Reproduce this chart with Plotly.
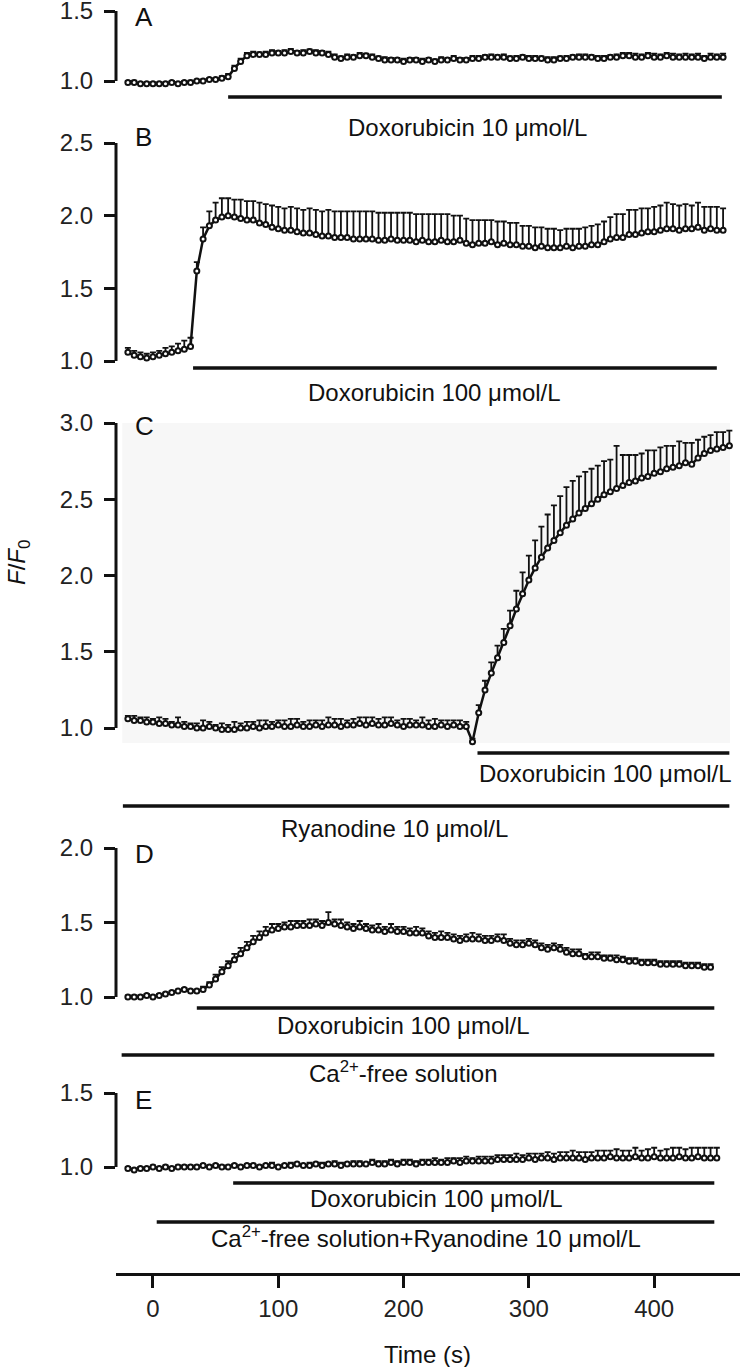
import plotly.graph_objects as go

# ---------------- data ----------------
TIME = list(range(-20, 465, 5))  # sampling times (s)

A_MEAN = [0.99, 0.99, 0.98, 0.98, 0.98, 0.98, 0.98, 0.99, 0.98, 0.99,
          0.99, 1.00, 1.00, 1.01, 1.01, 1.02, 1.03, 1.09, 1.14, 1.18,
          1.19, 1.19, 1.19, 1.20, 1.20, 1.20, 1.21, 1.20, 1.20, 1.21,
          1.20, 1.20, 1.19, 1.17, 1.16, 1.17, 1.17, 1.18, 1.18, 1.17,
          1.16, 1.15, 1.15, 1.15, 1.14, 1.15, 1.15, 1.14, 1.15, 1.14,
          1.15, 1.15, 1.16, 1.15, 1.15, 1.16, 1.16, 1.17, 1.17, 1.17,
          1.17, 1.16, 1.16, 1.17, 1.16, 1.16, 1.16, 1.15, 1.15, 1.16,
          1.16, 1.17, 1.17, 1.17, 1.17, 1.16, 1.16, 1.17, 1.17, 1.18,
          1.18, 1.17, 1.17, 1.18, 1.17, 1.17, 1.18, 1.17, 1.17, 1.17,
          1.17, 1.17, 1.16, 1.17, 1.17, 1.17]
A_SEM = [0.010, 0.012, 0.010, 0.012, 0.010, 0.010, 0.012, 0.010, 0.012, 0.010,
         0.012, 0.010, 0.012, 0.010, 0.012, 0.015, 0.020, 0.020, 0.020, 0.020,
         0.020, 0.015, 0.020, 0.020, 0.015, 0.020, 0.020, 0.015, 0.020, 0.015,
         0.020, 0.015, 0.020, 0.020, 0.015, 0.020, 0.015, 0.020, 0.015, 0.020,
         0.015, 0.020, 0.015, 0.015, 0.020, 0.015, 0.015, 0.020, 0.015, 0.015,
         0.020, 0.015, 0.020, 0.015, 0.015, 0.020, 0.020, 0.015, 0.020, 0.015,
         0.020, 0.015, 0.020, 0.015, 0.020, 0.020, 0.015, 0.020, 0.020, 0.015,
         0.020, 0.015, 0.020, 0.020, 0.015, 0.020, 0.020, 0.015, 0.020, 0.020,
         0.020, 0.025, 0.020, 0.020, 0.025, 0.020, 0.020, 0.025, 0.020, 0.025,
         0.020, 0.025, 0.020, 0.025, 0.020, 0.025]

B_MEAN = [1.06, 1.04, 1.03, 1.02, 1.03, 1.04, 1.05, 1.06, 1.07, 1.08,
          1.10, 1.62, 1.84, 1.93, 1.97, 1.99, 2.00, 1.99, 1.98, 1.97,
          1.97, 1.95, 1.94, 1.92, 1.91, 1.90, 1.90, 1.89, 1.88, 1.88,
          1.87, 1.86, 1.86, 1.85, 1.85, 1.85, 1.84, 1.84, 1.84, 1.84,
          1.83, 1.83, 1.84, 1.83, 1.83, 1.83, 1.82, 1.83, 1.82, 1.82,
          1.83, 1.82, 1.82, 1.83, 1.81, 1.80, 1.81, 1.81, 1.82, 1.80,
          1.81, 1.80, 1.80, 1.79, 1.79, 1.78, 1.79, 1.78, 1.78, 1.78,
          1.79, 1.78, 1.79, 1.79, 1.80, 1.80, 1.82, 1.84, 1.85, 1.85,
          1.87, 1.87, 1.88, 1.89, 1.89, 1.90, 1.91, 1.91, 1.90, 1.91,
          1.91, 1.92, 1.90, 1.91, 1.90, 1.90]
B_SEM = [0.03, 0.03, 0.03, 0.03, 0.03, 0.03, 0.04, 0.04, 0.05, 0.06,
         0.06, 0.06, 0.08, 0.10, 0.12, 0.13, 0.12, 0.12, 0.13, 0.13,
         0.13, 0.14, 0.14, 0.15, 0.15, 0.15, 0.16, 0.16, 0.16, 0.17,
         0.17, 0.17, 0.18, 0.18, 0.18, 0.18, 0.19, 0.19, 0.19, 0.19,
         0.19, 0.19, 0.18, 0.19, 0.19, 0.19, 0.19, 0.18, 0.19, 0.19,
         0.18, 0.19, 0.18, 0.17, 0.17, 0.17, 0.16, 0.16, 0.15, 0.16,
         0.15, 0.15, 0.15, 0.14, 0.14, 0.14, 0.13, 0.13, 0.13, 0.12,
         0.12, 0.13, 0.12, 0.13, 0.13, 0.14, 0.14, 0.15, 0.16, 0.16,
         0.17, 0.17, 0.17, 0.16, 0.17, 0.17, 0.18, 0.17, 0.17, 0.17,
         0.16, 0.17, 0.16, 0.15, 0.16, 0.15]

C_MEAN = [1.06, 1.05, 1.05, 1.04, 1.04, 1.03, 1.03, 1.02, 1.02, 1.01,
          1.01, 1.00, 1.00, 1.01, 1.00, 0.99, 0.99, 0.99, 1.00, 1.00,
          1.01, 1.00, 1.01, 1.01, 1.02, 1.01, 1.01, 1.02, 1.01, 1.01,
          1.02, 1.01, 1.02, 1.02, 1.01, 1.02, 1.02, 1.03, 1.02, 1.03,
          1.02, 1.02, 1.03, 1.02, 1.01, 1.02, 1.02, 1.02, 1.01, 1.01,
          1.02, 1.01, 1.02, 1.01, 1.01, 0.91, 1.10, 1.25, 1.36, 1.46,
          1.56, 1.67, 1.78, 1.88, 1.97, 2.05, 2.12, 2.18, 2.23, 2.28,
          2.33, 2.37, 2.41, 2.44, 2.47, 2.50, 2.53, 2.55, 2.57, 2.59,
          2.61, 2.62, 2.64, 2.65, 2.67, 2.68, 2.70, 2.71, 2.72, 2.74,
          2.73, 2.77, 2.80, 2.82, 2.83, 2.84, 2.85]
C_SEM = [0.02, 0.03, 0.02, 0.03, 0.02, 0.04, 0.03, 0.02, 0.05, 0.03,
         0.02, 0.03, 0.05, 0.03, 0.02, 0.04, 0.03, 0.05, 0.03, 0.04,
         0.03, 0.05, 0.04, 0.03, 0.03, 0.04, 0.05, 0.04, 0.03, 0.04,
         0.03, 0.04, 0.05, 0.04, 0.05, 0.03, 0.04, 0.04, 0.05, 0.04,
         0.04, 0.05, 0.04, 0.03, 0.05, 0.04, 0.03, 0.05, 0.04, 0.05,
         0.03, 0.04, 0.03, 0.04, 0.03, 0.02, 0.05, 0.06, 0.07, 0.08,
         0.09, 0.10, 0.12, 0.14, 0.16, 0.18, 0.20, 0.22, 0.23, 0.24,
         0.25, 0.25, 0.24, 0.24, 0.23, 0.22, 0.22, 0.21, 0.28, 0.20,
         0.18, 0.17, 0.16, 0.17, 0.15, 0.16, 0.15, 0.14, 0.16, 0.13,
         0.14, 0.12, 0.11, 0.10, 0.11, 0.10, 0.10]

D_MEAN = [1.00, 1.00, 1.00, 1.01, 1.00, 1.01, 1.02, 1.03, 1.04, 1.05,
          1.04, 1.04, 1.05, 1.08, 1.12, 1.17, 1.21, 1.25, 1.29, 1.33,
          1.37, 1.40, 1.43, 1.45, 1.46, 1.47, 1.47, 1.48, 1.48, 1.48,
          1.49, 1.48, 1.50, 1.49, 1.48, 1.47, 1.46, 1.47, 1.46, 1.45,
          1.45, 1.44, 1.45, 1.44, 1.44, 1.43, 1.43, 1.43, 1.41, 1.40,
          1.40, 1.40, 1.39, 1.38, 1.39, 1.39, 1.39, 1.38, 1.38, 1.39,
          1.38, 1.36, 1.35, 1.35, 1.36, 1.35, 1.33, 1.32, 1.33, 1.32,
          1.30, 1.29, 1.29, 1.27, 1.27, 1.27, 1.26, 1.26, 1.25, 1.25,
          1.24, 1.24, 1.23, 1.23, 1.23, 1.22, 1.22, 1.22, 1.22, 1.21,
          1.21, 1.21, 1.20, 1.20]
D_SEM = [0.01, 0.01, 0.01, 0.01, 0.01, 0.01, 0.01, 0.01, 0.01, 0.01,
         0.01, 0.01, 0.02, 0.02, 0.03, 0.03, 0.03, 0.04, 0.04, 0.04,
         0.04, 0.04, 0.04, 0.04, 0.03, 0.03, 0.04, 0.03, 0.03, 0.04,
         0.03, 0.03, 0.07, 0.03, 0.04, 0.03, 0.03, 0.04, 0.03, 0.03,
         0.04, 0.03, 0.04, 0.03, 0.03, 0.03, 0.04, 0.03, 0.03, 0.03,
         0.04, 0.03, 0.03, 0.03, 0.03, 0.04, 0.03, 0.03, 0.03, 0.03,
         0.04, 0.03, 0.03, 0.03, 0.03, 0.03, 0.03, 0.03, 0.03, 0.03,
         0.03, 0.03, 0.03, 0.02, 0.03, 0.03, 0.02, 0.02, 0.03, 0.02,
         0.02, 0.02, 0.02, 0.02, 0.02, 0.02, 0.02, 0.02, 0.02, 0.02,
         0.02, 0.02, 0.02, 0.02]

E_MEAN = [0.99, 0.98, 0.99, 0.99, 1.00, 0.99, 1.00, 0.99, 1.00, 1.00,
          1.00, 1.00, 1.01, 1.00, 1.01, 1.00, 1.00, 1.01, 1.00, 1.01,
          1.01, 1.00, 1.01, 1.01, 1.00, 1.01, 1.01, 1.02, 1.01, 1.01,
          1.02, 1.01, 1.02, 1.02, 1.01, 1.02, 1.02, 1.02, 1.02, 1.03,
          1.02, 1.02, 1.03, 1.02, 1.03, 1.03, 1.02, 1.03, 1.03, 1.03,
          1.03, 1.03, 1.04, 1.03, 1.04, 1.04, 1.04, 1.04, 1.04, 1.05,
          1.05, 1.05, 1.05, 1.05, 1.06, 1.05, 1.06, 1.06, 1.05, 1.06,
          1.06, 1.06, 1.06, 1.05, 1.06, 1.06, 1.06, 1.07, 1.06, 1.06,
          1.06, 1.07, 1.06, 1.06, 1.07, 1.06, 1.06, 1.06, 1.07, 1.06,
          1.06, 1.07, 1.06, 1.06, 1.06]
E_SEM = [0.01, 0.01, 0.01, 0.01, 0.01, 0.01, 0.01, 0.01, 0.01, 0.01,
         0.01, 0.01, 0.01, 0.01, 0.01, 0.01, 0.01, 0.01, 0.01, 0.01,
         0.01, 0.01, 0.01, 0.02, 0.01, 0.01, 0.02, 0.01, 0.01, 0.02,
         0.01, 0.02, 0.01, 0.02, 0.02, 0.01, 0.02, 0.02, 0.01, 0.02,
         0.02, 0.02, 0.02, 0.02, 0.02, 0.02, 0.02, 0.02, 0.02, 0.03,
         0.02, 0.03, 0.02, 0.03, 0.03, 0.02, 0.03, 0.03, 0.03, 0.03,
         0.03, 0.03, 0.04, 0.03, 0.03, 0.04, 0.03, 0.04, 0.04, 0.04,
         0.04, 0.05, 0.04, 0.05, 0.04, 0.05, 0.05, 0.04, 0.06, 0.05,
         0.05, 0.06, 0.05, 0.06, 0.06, 0.05, 0.06, 0.07, 0.06, 0.06,
         0.07, 0.06, 0.07, 0.07, 0.07]

PANEL_LETTERS = ["A", "B", "C", "D", "E"]
PANEL_MEANS = [A_MEAN, B_MEAN, C_MEAN, D_MEAN, E_MEAN]
PANEL_SEMS = [A_SEM, B_SEM, C_SEM, D_SEM, E_SEM]
PANEL_TICKS = [[1.0, 1.5], [1.0, 1.5, 2.0, 2.5], [1.0, 1.5, 2.0, 2.5, 3.0],
               [1.0, 1.5, 2.0], [1.0, 1.5]]

# treatment bars (panel index, start s, end s, label)
BAR_PANEL = [0, 1, 2, 2, 3, 3, 4, 4]
BAR_START = [60, 32, 259, -24, 35, -25, 64, 3]
BAR_END = [454, 450, 460, 460, 448, 448, 448, 448]
BAR_LABELS = ["Doxorubicin 10 μmol/L", "Doxorubicin 100 μmol/L",
              "Doxorubicin 100 μmol/L", "Ryanodine 10 μmol/L",
              "Doxorubicin 100 μmol/L", "Ca<sup>2+</sup>-free solution",
              "Doxorubicin 100 μmol/L",
              "Ca<sup>2+</sup>-free solution+Ryanodine 10 μmol/L"]

X_TICKS = [0, 100, 200, 300, 400]

# ---------------- layout geometry (pixels) ----------------
W, H = 740, 1367
ML, MR, MT, MB = 116, 0, 0, 94
PH = H - MT - MB
# (v_lo, px_lo, v_hi, px_hi, domain_top_px, domain_bottom_px)
AX = [
    (1.0, 81, 1.5, 11, 0, 140),
    (1.0, 361, 2.5, 143, 140, 405),
    (1.0, 728, 3.0, 423, 405, 840),
    (1.0, 997, 2.0, 848, 840, 1080),
    (1.0, 1167, 1.5, 1093, 1080, 1273),
]
BAR_Y_PX = [97, 368, 753, 806, 1008, 1055, 1183, 1222]
LABEL_Y_PX = [127, 393, 773, 828, 1025, 1072, 1198, 1237]
LABEL_X = [251, 225, 361, 193, 200, 200, 226, 218]
LETTER_Y_PX = [17, 137, 426, 854, 1100]

FONT = "Liberation Sans, Arial, sans-serif"
INK = "#111111"


def frac(p):
    return (H - MB - p) / PH


def val(k, p):
    vlo, plo, vhi, phi = AX[k][:4]
    return vlo + (plo - p) * (vhi - vlo) / (plo - phi)


def yname(k):
    return "y" if k == 0 else f"y{k + 1}"


def ylayout(k):
    return "yaxis" if k == 0 else f"yaxis{k + 1}"


fig = go.Figure()

for k in range(5):
    mean = PANEL_MEANS[k]
    sem = PANEL_SEMS[k]
    n = min(len(mean), len(sem))
    t = TIME[:n]
    fig.add_trace(go.Scatter(
        x=t, y=mean[:n], xaxis="x", yaxis=yname(k), mode="lines+markers",
        line=dict(color=INK, width=2.5),
        marker=dict(symbol="circle", size=5, color="white",
                    line=dict(color=INK, width=2)),
        error_y=dict(type="data", symmetric=False, array=sem[:n],
                     arrayminus=[0] * n, color=INK, thickness=1.8, width=3),
        hoverinfo="skip", showlegend=False))

for i, k in enumerate(BAR_PANEL):
    lvl = val(k, BAR_Y_PX[i])
    fig.add_trace(go.Scatter(
        x=[BAR_START[i], BAR_END[i]], y=[lvl, lvl], xaxis="x", yaxis=yname(k),
        mode="lines", line=dict(color=INK, width=3.5),
        hoverinfo="skip", showlegend=False))

layout = dict(
    width=W, height=H,
    margin=dict(l=ML, r=MR, t=MT, b=MB, pad=0, autoexpand=False),
    paper_bgcolor="white", plot_bgcolor="rgba(0,0,0,0)",
    showlegend=False,
    font=dict(family=FONT, size=24, color=INK),
    xaxis=dict(domain=[0, 1], range=[-29.5, 468.5], anchor=yname(4),
               automargin=False,
               tickvals=X_TICKS, ticks="outside", ticklen=12, tickwidth=3,
               tickcolor=INK, showline=True, linewidth=3, linecolor=INK,
               showgrid=False, zeroline=False,
               tickfont=dict(family=FONT, size=24, color="#222222")),
)

shapes = []
annotations = []
for k in range(5):
    top_px, bot_px = AX[k][4], AX[k][5]
    ticks = PANEL_TICKS[k]
    layout[ylayout(k)] = dict(
        domain=[frac(bot_px), frac(top_px)],
        range=[val(k, bot_px), val(k, top_px)],
        anchor="x", automargin=False, ticklabeloverflow="allow",
        tickvals=ticks, ticktext=[f"{v:.1f}" for v in ticks],
        ticks="outside", ticklen=11, tickwidth=3, tickcolor=INK,
        ticklabelstandoff=6,
        showline=False, showgrid=False, zeroline=False,
        tickfont=dict(family=FONT, size=24, color="#222222"))
    shapes.append(dict(type="line", xref="x domain", yref=yname(k),
                       x0=0, x1=0, y0=min(ticks), y1=max(ticks),
                       line=dict(color=INK, width=3)))
    annotations.append(dict(text=PANEL_LETTERS[k], xref="x", yref="paper",
                            x=-16, y=frac(LETTER_Y_PX[k]), xanchor="left",
                            yanchor="middle", showarrow=False,
                            font=dict(family=FONT, size=26, color=INK)))

# light grey background of panel C
shapes.append(dict(type="rect", xref="x domain", yref="y3 domain",
                   x0=0.01, x1=0.984,
                   y0=(AX[2][5] - 743) / (AX[2][5] - AX[2][4]),
                   y1=(AX[2][5] - 423) / (AX[2][5] - AX[2][4]),
                   fillcolor="#f7f7f7", line=dict(width=0), layer="below"))

for i, k in enumerate(BAR_PANEL):
    annotations.append(dict(text=BAR_LABELS[i], xref="x", yref="paper",
                            x=LABEL_X[i], y=frac(LABEL_Y_PX[i]),
                            xanchor="center", yanchor="middle",
                            showarrow=False,
                            font=dict(family=FONT, size=24, color=INK)))

annotations.append(dict(text="<i>F</i>/<i>F</i><sub>0</sub>", xref="paper",
                        yref="paper", x=(18 - ML) / (W - ML - MR),
                        y=frac(563), xanchor="center", yanchor="middle",
                        textangle=-90, showarrow=False,
                        font=dict(family=FONT, size=24, color=INK)))
annotations.append(dict(text="Time (s)", xref="paper", yref="paper",
                        x=(427 - ML) / (W - ML - MR), y=frac(1355),
                        xanchor="center", yanchor="middle", showarrow=False,
                        font=dict(family=FONT, size=24, color=INK)))

layout["shapes"] = shapes
layout["annotations"] = annotations
fig.update_layout(**layout)

fig.write_html(
    "out.html",
    config={"displayModeBar": False},
    post_script="document.body.style.margin='0px';"
                "document.body.style.overflow='hidden';")
